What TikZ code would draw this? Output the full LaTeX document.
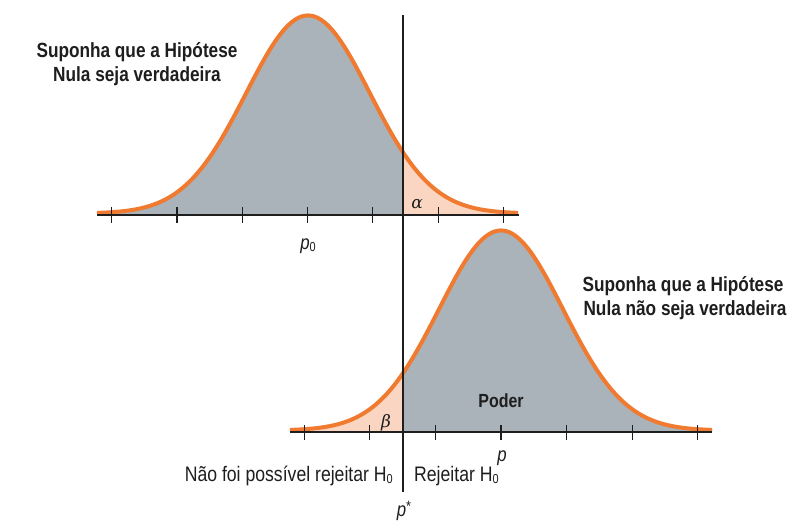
\documentclass[tikz,border=0pt]{standalone}
\usepackage{fontspec}
\newfontfamily\cf{Liberation Sans}[FakeStretch=0.84]
\newfontfamily\gk{DejaVu Serif}
\definecolor{curveorange}{RGB}{240,122,48}
\definecolor{greyfill}{RGB}{170,178,186}
\definecolor{pinkfill}{RGB}{250,214,194}
\definecolor{inkc}{RGB}{30,30,30}
\tikzset{
  lbl/.style={inner sep=0pt, anchor=base, text=inkc},
  titlefont/.style={font=\cf\bfseries\fontsize{20.5}{24}\selectfont},
  bodyfont/.style={font=\cf\fontsize{21}{24}\selectfont},
  greekfont/.style={font=\gk\itshape\fontsize{17}{17}\selectfont},
  curveline/.style={draw=curveorange, line width=4pt, line join=round},
  axisline/.style={draw=inkc, line width=1.1pt},
  tickline/.style={draw=inkc, line width=1.1pt},
}
\begin{document}
\begin{tikzpicture}[x=1pt,y=-1pt,
  declare function={ftop(\x)=213.5-198*exp(-((\x-308)/62)^2/2);
                    fbot(\x)=430.5-200*exp(-((\x-501)/62)^2/2);}]
\useasboundingbox (0,0) rectangle (811,520);
\fill[white] (0,0) rectangle (811,520);

% ---------- top distribution (null hypothesis) ----------
\fill[greyfill] (97,215) -- plot[domain=97:403,samples=120] (\x,{ftop(\x)}) -- (403,215) -- cycle;
\fill[pinkfill] (403,215) -- plot[domain=403:518,samples=60] (\x,{ftop(\x)}) -- (518,215) -- cycle;
\draw[curveline] plot[domain=97:518,samples=200] (\x,{ftop(\x)});
\coordinate (ta) at (97,215);
\coordinate (tb) at (519,215);
\draw[axisline] (ta) -- (tb);
\foreach \t in {111.7,177,242.3,307.6,372.9,438.2,503.5}
  \draw[tickline] (\t,207) -- (\t,223);

% ---------- bottom distribution (alternative) ----------
\fill[pinkfill] (290,432) -- plot[domain=290:403,samples=60] (\x,{fbot(\x)}) -- (403,432) -- cycle;
\fill[greyfill] (403,432) -- plot[domain=403:712,samples=120] (\x,{fbot(\x)}) -- (712,432) -- cycle;
\draw[curveline] plot[domain=290:712,samples=200] (\x,{fbot(\x)});
\coordinate (ba) at (290,432);
\coordinate (bb) at (712,432);
\draw[axisline] (ba) -- (bb);
\foreach \t in {304.3,369.9,435.5,501,566.6,632.2,697.8}
  \draw[tickline] (\t,425) -- (\t,440);

% ---------- critical value line ----------
\coordinate (vt) at (403,15);
\coordinate (vb) at (403,492);
\draw[axisline] (vt) -- (vb);

% ---------- labels ----------
\node[lbl,titlefont] (t1a) at (137,57) {Suponha que a Hipótese};
\node[lbl,titlefont] (t1b) at (137,81) {Nula seja verdadeira};
\node[lbl,titlefont] (t2a) at (683,291) {Suponha que a Hipótese};
\node[lbl,titlefont] (t2b) at (685,315) {Nula não seja verdadeira};

\node[lbl,greekfont] (alpha) at (417,208) {α};
\node[lbl,greekfont] (beta) at (386,427) {β};
\node[lbl,font=\cf\bfseries\fontsize{19}{19}\selectfont] (poder) at (501,407) {Poder};

\node[lbl,font=\cf\itshape\fontsize{20}{20}\selectfont] (p0) at (308,249) {p\raisebox{-2pt}{\upshape\fontsize{13}{13}\selectfont 0}};
\node[lbl,font=\cf\itshape\fontsize{20}{20}\selectfont] (p) at (502,461) {p};
\node[lbl,font=\cf\itshape\fontsize{20}{20}\selectfont] (pstar) at (404,516) {p\raisebox{5pt}{\upshape\fontsize{15}{15}\selectfont *}};

\node[lbl,bodyfont,anchor=base east] (nfr) at (393,481) {Não foi possível rejeitar H\raisebox{-2.5pt}{\fontsize{13}{13}\selectfont 0}};
\node[lbl,bodyfont,anchor=base west] (rej) at (414,481) {Rejeitar H\raisebox{-2.5pt}{\fontsize{13}{13}\selectfont 0}};
\end{tikzpicture}
\end{document}
